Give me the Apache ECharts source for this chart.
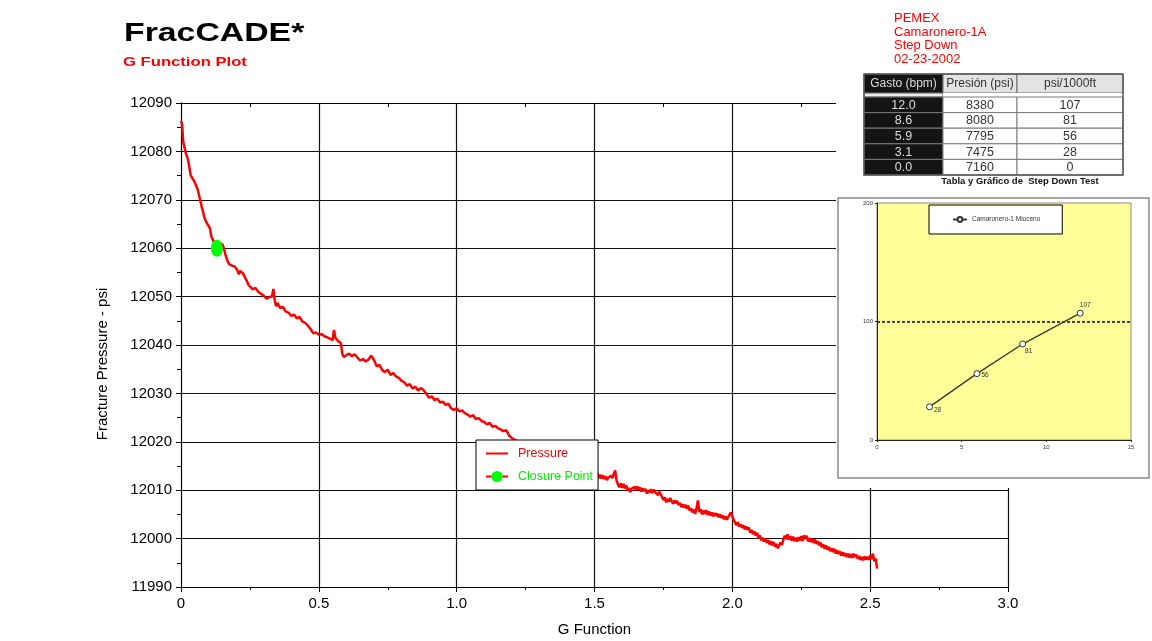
<!DOCTYPE html>
<html>
<head>
<meta charset="utf-8">
<script src="https://cdn.jsdelivr.net/npm/echarts@6/dist/echarts.min.js"></script>
<style>html,body{margin:0;padding:0;background:#fff;}#c{width:1152px;height:641px;}</style>
</head>
<body>
<div id="c"></div>
<script>
// ---------- DATA ----------
const gFunction = [
0.000,0.004,0.008,0.012,0.016,0.020,0.025,0.030,0.035,0.040,0.045,0.050,0.055,0.060,0.065,0.070,0.075,0.080,0.085,0.090,
0.095,0.100,0.105,0.110,0.115,0.120,0.125,0.130,0.135,0.140,0.145,0.150,0.155,0.160,0.165,0.170,0.175,0.180,0.185,0.190,
0.195,0.200,0.205,0.210,0.215,0.220,0.225,0.230,0.235,0.240,0.245,0.250,0.26,0.27,0.28,0.29,0.30,0.31,0.32,0.33,
0.335,0.34,0.345,0.35,0.36,0.37,0.38,0.39,0.40,0.41,0.42,0.43,0.44,0.45,0.46,0.47,0.48,0.49,0.50,0.51,
0.52,0.53,0.54,0.55,0.555,0.56,0.57,0.58,0.585,0.59,0.60,0.61,0.62,0.63,0.64,0.65,0.66,0.67,0.68,0.69,
0.70,0.71,0.72,0.73,0.74,0.75,0.76,0.77,0.78,0.79,0.80,0.81,0.82,0.83,0.84,0.85,0.86,0.87,0.88,0.89,
0.90,0.91,0.92,0.93,0.94,0.95,0.96,0.97,0.98,0.99,1.00,1.01,1.02,1.03,1.04,1.05,1.06,1.07,1.08,1.09,
1.10,1.11,1.12,1.13,1.14,1.15,1.16,1.17,1.18,1.19,1.20,1.21,1.24,1.27,1.30,1.33,1.36,1.39,1.42,1.45,
1.48,
1.500,1.505,1.510,1.515,1.520,1.525,1.530,1.535,1.540,1.545,1.550,1.555,1.560,1.565,1.570,1.575,1.580,1.585,1.590,1.595,
1.600,1.605,1.610,1.615,1.620,1.625,1.630,1.635,1.640,1.645,1.650,1.655,1.660,1.665,1.670,1.675,1.680,1.685,1.690,1.695,
1.700,1.705,1.710,1.715,1.720,1.725,1.730,1.735,1.740,1.745,1.750,1.755,1.760,1.765,1.770,1.775,1.780,1.785,1.790,1.795,
1.800,1.805,1.810,1.815,1.820,1.825,1.830,1.835,1.840,1.845,1.850,1.855,1.860,1.865,1.870,1.875,1.880,1.885,1.890,1.895,
1.900,1.905,1.910,1.915,1.920,1.925,1.930,1.935,1.940,1.945,1.950,1.955,1.960,1.965,1.970,1.975,1.980,1.985,1.990,1.995,
2.000,2.005,2.010,2.015,2.020,2.025,2.030,2.035,2.040,2.045,2.050,2.055,2.060,2.065,2.070,2.075,2.080,2.085,2.090,2.095,
2.100,2.105,2.110,2.115,2.120,2.125,2.130,2.135,2.140,2.145,2.150,2.155,2.160,2.165,2.170,2.175,2.180,2.185,2.190,2.195,
2.200,2.205,2.210,2.215,2.220,2.225,2.230,2.235,2.240,2.245,2.250,2.255,2.260,2.265,2.270,2.275,2.280,2.285,2.290,2.295,
2.300,2.305,2.310,2.315,2.320,2.325,2.330,2.335,2.340,2.345,2.350,2.355,2.360,2.365,2.370,2.375,2.380,2.385,2.390,2.395,
2.400,2.405,2.410,2.415,2.420,2.425,2.430,2.435,2.440,2.445,2.450,2.455,2.460,2.465,2.470,2.475,2.480,2.485,2.490,2.495,
2.500,2.505,2.510,2.515,2.520,2.525
];
const pressure = [
12086.3,12085.5,12082.0,12081.0,12079.9,12079.2,12078.4,12076.8,12075.1,12074.6,12074.2,12073.6,12072.9,12072.2,12071.1,12069.8,12068.6,12067.5,12066.3,12065.6,
12065.1,12064.6,12064.1,12062.4,12061.8,12061.2,12060.9,12060.7,12060.9,12061.1,12061.3,12060.8,12060.1,12058.9,12058.0,12057.2,12056.7,12056.9,12056.4,12056.6,
12056.2,12056.3,12055.4,12054.6,12055.3,12055.0,12054.8,12054.2,12053.6,12053.1,12052.4,12052.0,12051.5,12051.8,12051.0,12050.6,12050.2,12049.6,12049.9,12050.0,
12051.6,12049.2,12048.0,12048.7,12047.6,12047.9,12046.9,12046.7,12046.0,12046.3,12045.5,12045.8,12044.9,12044.6,12044.0,12043.3,12042.4,12042.6,12042.1,12042.3,
12041.8,12041.6,12041.3,12041.0,12043.1,12041.5,12040.8,12040.4,12038.2,12037.5,12037.9,12038.2,12037.7,12038.1,12037.4,12036.8,12037.1,12036.6,12037.0,12037.8,
12036.9,12035.6,12035.9,12034.8,12034.4,12034.9,12033.8,12034.2,12033.5,12033.2,12032.6,12032.3,12031.6,12031.9,12031.0,12031.4,12030.6,12031.1,12030.7,12029.9,
12029.1,12029.4,12028.6,12028.9,12028.1,12028.3,12027.6,12027.9,12026.9,12026.6,12026.9,12026.3,12026.5,12025.9,12025.6,12025.2,12025.5,12024.7,12024.9,12024.3,
12024.1,12023.6,12023.9,12023.1,12023.3,12022.8,12022.5,12022.2,12022.4,12021.3,12020.8,12020.4,12019.6,12019.0,12018.4,12017.6,12017.1,12016.4,12015.8,12015.2,
12014.6,
12014.2,12013.0,12013.6,12012.5,12013.2,12012.4,12013.1,12012.3,12012.9,12012.1,12012.6,12012.2,12013.0,12012.5,12013.4,12014.1,12012.0,12011.2,12010.6,12011.4,
12010.5,12011.3,12010.4,12011.0,12009.9,12010.5,12009.6,12010.3,12009.9,12010.7,12010.0,12010.8,12010.1,12010.6,12009.7,12010.4,12009.8,12010.3,12009.3,12010.0,
12009.5,12010.2,12009.4,12010.1,12009.6,12009.9,12009.0,12009.7,12009.2,12008.6,12008.0,12008.5,12007.5,12008.2,12007.6,12008.4,12007.7,12007.2,12007.9,12007.3,
12007.8,12006.9,12007.4,12006.5,12007.1,12006.4,12007.0,12006.2,12006.8,12005.8,12006.3,12005.4,12006.0,12005.1,12006.2,12007.9,12005.5,12006.1,12005.0,12005.8,
12005.1,12005.9,12004.9,12005.6,12004.8,12005.4,12004.6,12005.3,12004.7,12005.2,12004.4,12005.0,12004.3,12004.8,12004.0,12004.6,12003.9,12004.5,12004.1,12005.4,
12004.6,12003.8,12003.3,12002.8,12003.4,12002.5,12003.0,12002.2,12002.8,12001.9,12002.5,12001.8,12002.3,12001.2,12001.8,12000.9,12001.5,12000.6,12001.2,12000.1,
12000.7,11999.6,12000.2,11999.4,12000.0,11999.1,11999.7,11998.8,11999.5,11998.6,11999.3,11998.3,11998.9,11998.0,11998.6,11999.2,11998.7,11999.8,12000.6,11999.9,
12000.9,11999.8,12000.5,11999.6,12000.4,11999.5,12000.2,11999.4,12000.3,11999.6,12000.5,11999.5,12000.7,11999.9,12000.6,11999.4,12000.1,11999.3,12000.0,11999.1,
11999.8,11998.9,11999.5,11998.6,11999.2,11998.2,11998.8,11997.9,11998.6,11997.7,11998.3,11997.4,11998.0,11997.2,11997.9,11996.9,11997.6,11996.8,11997.4,11996.5,
11997.2,11996.4,11997.0,11996.2,11996.9,11996.1,11996.8,11996.0,11996.9,11996.2,11996.7,11995.8,11996.4,11995.6,11996.2,11995.5,11996.3,11995.7,11996.2,11995.6,
11996.5,11995.8,11996.9,11995.3,11995.9,11993.8
];
const closurePoint = [0.13, 12060.0];
const xTickLabels = ['0','0.5','1.0','1.5','2.0','2.5','3.0'];

const headerLines = ['PEMEX','Camaronero-1A','Step Down','02-23-2002'];
const tableHeaders = ['Gasto (bpm)','Presión (psi)','psi/1000ft'];
const rateBpm = [12.0, 8.6, 5.9, 3.1, 0.0];
const pressurePsi = [8380, 8080, 7795, 7475, 7160];
const gradientPsiFt = [107, 81, 56, 28, 0];
const tableCaption = 'Tabla y Gráfico de  Step Down Test';
const insetSeriesName = 'Camaronero-1 Mioceno';
const insetRefLine = 100;

// ---------- BUILD ----------
const FONT = '"Liberation Sans", Arial, sans-serif';
const pressureData = gFunction.map((g, i) => [g, pressure[i]]);
const insetData = rateBpm.map((r, i) => [r, gradientPsiFt[i]]).filter(d => d[0] > 0);
const insetLabelPos = {107: ['top', [5, 1]], 81: ['bottom', [6, -2]], 56: ['right', [-1, 2]], 28: ['right', [-1, 3]]};

const chart = echarts.init(document.getElementById('c'), null, {renderer: 'canvas'});

const g = [];
g.push({type: 'rect', z: 3, shape: {x: 836, y: 88, width: 316, height: 400}, style: {fill: '#fff'}});
g.push({type: 'rect', z: 3, shape: {x: 838, y: 198, width: 311, height: 280}, style: {fill: '#fff', stroke: '#8a8a8a', lineWidth: 1.5}});
g.push({type: 'text', z: 5, x: 124, y: 34, scaleX: 1.3, style: {text: 'FracCADE*', fontSize: 26, fontWeight: 'bold', fontFamily: FONT, fill: '#000', verticalAlign: 'middle'}});
g.push({type: 'text', z: 5, x: 123, y: 62.5, scaleX: 1.28, style: {text: 'G Function Plot', fontSize: 13, fontWeight: 'bold', fontFamily: FONT, fill: '#ff0000', verticalAlign: 'middle'}});
headerLines.forEach((t, i) => {
  g.push({type: 'text', z: 5, x: 894, y: 18.3 + i * 13.7, style: {text: t, fontSize: 13, fontFamily: FONT, fill: '#ff0000', verticalAlign: 'middle'}});
});
g.push({type: 'text', z: 5, x: 103, y: 364, rotation: Math.PI / 2, style: {text: 'Fracture Pressure - psi', fontSize: 15, fontFamily: FONT, fill: '#000', align: 'center', verticalAlign: 'middle'}});

// table
const tX = 864, colW = [79, 74, 106], headY = 74, headH = 19, gapH = 4, rowH = 15.6;
const colX = [tX, tX + colW[0], tX + colW[0] + colW[1]];
const tW = colW[0] + colW[1] + colW[2];
const rowsTop = headY + headH + gapH;
tableHeaders.forEach((h, c) => {
  g.push({type: 'rect', z: 5, shape: {x: colX[c], y: headY, width: colW[c], height: headH},
    style: {fill: c === 0 ? '#141414' : '#e3e3e3', stroke: '#6a6a6a', lineWidth: 1}});
  g.push({type: 'text', z: 6, x: colX[c] + colW[c] / 2, y: headY + headH / 2 + 0.5,
    style: {text: h, fontSize: 12, fontFamily: FONT, fill: c === 0 ? '#dcdcdc' : '#333', align: 'center', verticalAlign: 'middle'}});
});
g.push({type: 'rect', z: 5, shape: {x: colX[0], y: headY + headH, width: colW[0], height: gapH}, style: {fill: '#eeeeee', stroke: '#555', lineWidth: 1}});
g.push({type: 'rect', z: 5, shape: {x: colX[1], y: headY + headH, width: colW[1] + colW[2], height: gapH}, style: {fill: '#fff'}});
rateBpm.forEach((r, i) => {
  const y = rowsTop + i * rowH;
  const vals = [r.toFixed(1), String(pressurePsi[i]), String(gradientPsiFt[i])];
  vals.forEach((v, c) => {
    g.push({type: 'rect', z: 5, shape: {x: colX[c], y: y, width: colW[c], height: rowH},
      style: {fill: c === 0 ? '#141414' : '#fff', stroke: '#7a7a7a', lineWidth: 1}});
    g.push({type: 'text', z: 6, x: colX[c] + colW[c] / 2, y: y + rowH / 2 + 0.5,
      style: {text: v, fontSize: 12.5, fontFamily: FONT, fill: c === 0 ? '#dcdcdc' : '#333', align: 'center', verticalAlign: 'middle'}});
  });
});
g.push({type: 'rect', z: 7, shape: {x: tX, y: headY, width: tW, height: rowsTop + rateBpm.length * rowH - headY},
  style: {fill: null, stroke: '#555', lineWidth: 1.5}});
g.push({type: 'text', z: 6, x: 1020, y: 181, style: {text: tableCaption, fontSize: 9.5, fontWeight: 'bold', fontFamily: FONT, fill: '#111', align: 'center', verticalAlign: 'middle'}});

const axisBlack = {lineStyle: {color: '#000', width: 1}};

const option = {
  animation: false,
  backgroundColor: '#fff',
  textStyle: {fontFamily: FONT},
  grid: [
    {left: 181, right: 144, top: 103, bottom: 54, containLabel: false, outerBoundsMode: 'none'},
    {left: 877, top: 203, width: 254, height: 237, show: true, backgroundColor: '#ffff99', borderColor: '#8a8a8a', borderWidth: 1, z: 5, containLabel: false, outerBoundsMode: 'none'}
  ],
  xAxis: [
    {type: 'value', gridIndex: 0, min: 0, max: 3, interval: 0.5, position: 'bottom',
      name: 'G Function', nameLocation: 'middle', nameGap: 35,
      nameTextStyle: {fontSize: 15, color: '#000', fontFamily: FONT},
      axisLine: axisBlack, axisTick: {show: true, length: 5, lineStyle: {color: '#000'}},
      minorTick: {show: true, splitNumber: 2, length: 3, lineStyle: {color: '#000'}},
      axisLabel: {fontSize: 15, color: '#000', margin: 9, fontFamily: FONT, formatter: v => xTickLabels[Math.round(v / 0.5)]},
      splitLine: {show: true, lineStyle: {color: '#111', width: 1.2}}},
    {type: 'value', gridIndex: 0, min: 0, max: 3, interval: 0.5, position: 'top',
      axisLine: axisBlack, axisTick: {show: false, inside: true},
      minorTick: {show: true, splitNumber: 2, length: 4, lineStyle: {color: '#000'}},
      axisLabel: {show: false}, splitLine: {show: false}},
    {type: 'value', gridIndex: 1, min: 0, max: 15, interval: 5, z: 6,
      axisLine: {lineStyle: {color: '#222', width: 1}}, axisTick: {length: 2, lineStyle: {color: '#222'}},
      axisLabel: {fontSize: 6, color: '#333', margin: 4}, splitLine: {show: false}}
  ],
  yAxis: [
    {type: 'value', gridIndex: 0, min: 11990, max: 12090, interval: 10, position: 'left',
      axisLine: {show: true, lineStyle: {color: '#000', width: 1}},
      axisTick: {show: true, length: 5, lineStyle: {color: '#000'}},
      minorTick: {show: true, splitNumber: 2, length: 3, lineStyle: {color: '#000'}},
      axisLabel: {fontSize: 15, color: '#000', margin: 9, fontFamily: FONT, formatter: v => String(v)},
      splitLine: {show: true, lineStyle: {color: '#111', width: 1.2}}},
    {type: 'value', gridIndex: 0, min: 11990, max: 12090, interval: 10, position: 'right',
      axisLine: {show: true, lineStyle: {color: '#000', width: 1}},
      axisTick: {show: false, inside: true},
      minorTick: {show: true, splitNumber: 2, length: 4, lineStyle: {color: '#000'}},
      axisLabel: {show: false}, splitLine: {show: false}},
    {type: 'value', gridIndex: 1, min: 0, max: 200, interval: 100, z: 6,
      axisLine: {show: true, lineStyle: {color: '#222', width: 1}}, axisTick: {show: true, length: 2, lineStyle: {color: '#222'}},
      axisLabel: {fontSize: 6, color: '#333', margin: 4}, splitLine: {show: false}}
  ],
  legend: [
    {left: 476, top: 440, orient: 'vertical', z: 10,
      backgroundColor: '#fff', borderColor: '#000', borderWidth: 1, borderRadius: 0,
      padding: [7, 5, 7, 9], itemGap: 10, itemWidth: 22, itemHeight: 14,
      textStyle: {fontSize: 12.5, fontFamily: FONT, padding: [0, 0, 0, 5]},
      data: [
        {name: 'Pressure', textStyle: {color: '#ff0000'}, itemStyle: {opacity: 0}},
        {name: 'Closure Point', textStyle: {color: '#00ee00'}}
      ]},
    {left: 929, top: 205, orient: 'horizontal', z: 8,
      backgroundColor: '#fff', borderColor: '#000', borderWidth: 1, borderRadius: 0,
      padding: [11, 22, 11, 23], itemWidth: 14, itemHeight: 6,
      textStyle: {fontSize: 6.5, color: '#333', fontFamily: FONT},
      data: [insetSeriesName]}
  ],
  series: [
    {name: 'Pressure', type: 'line', xAxisIndex: 0, yAxisIndex: 0, data: pressureData,
      symbol: 'none', lineStyle: {color: '#ff0000', width: 2.5}, itemStyle: {color: '#ff0000'}, z: 2},
    {name: 'Closure Point', type: 'line', xAxisIndex: 0, yAxisIndex: 0, data: [closurePoint],
      symbol: 'circle', symbolSize: [12, 17], itemStyle: {color: '#00ff00'}, lineStyle: {color: '#ff0000', width: 2}, z: 2.5},
    {name: insetSeriesName, type: 'line', xAxisIndex: 2, yAxisIndex: 2, z: 7,
      data: insetData.map(d => ({value: d, label: {position: insetLabelPos[d[1]][0], offset: insetLabelPos[d[1]][1]}})),
      symbol: 'circle', symbolSize: 6,
      itemStyle: {color: '#fff', borderColor: '#333', borderWidth: 1},
      lineStyle: {color: '#3a3a2a', width: 1.4},
      label: {show: true, fontSize: 6.5, color: '#333', distance: 2, formatter: p => String(p.value[1])},
      markLine: {silent: true, symbol: 'none', label: {show: false},
        lineStyle: {color: '#444', type: [3, 2], width: 2},
        data: [{yAxis: insetRefLine}]}}
  ],
  graphic: {elements: g}
};
chart.setOption(option);
</script>
</body>
</html>
